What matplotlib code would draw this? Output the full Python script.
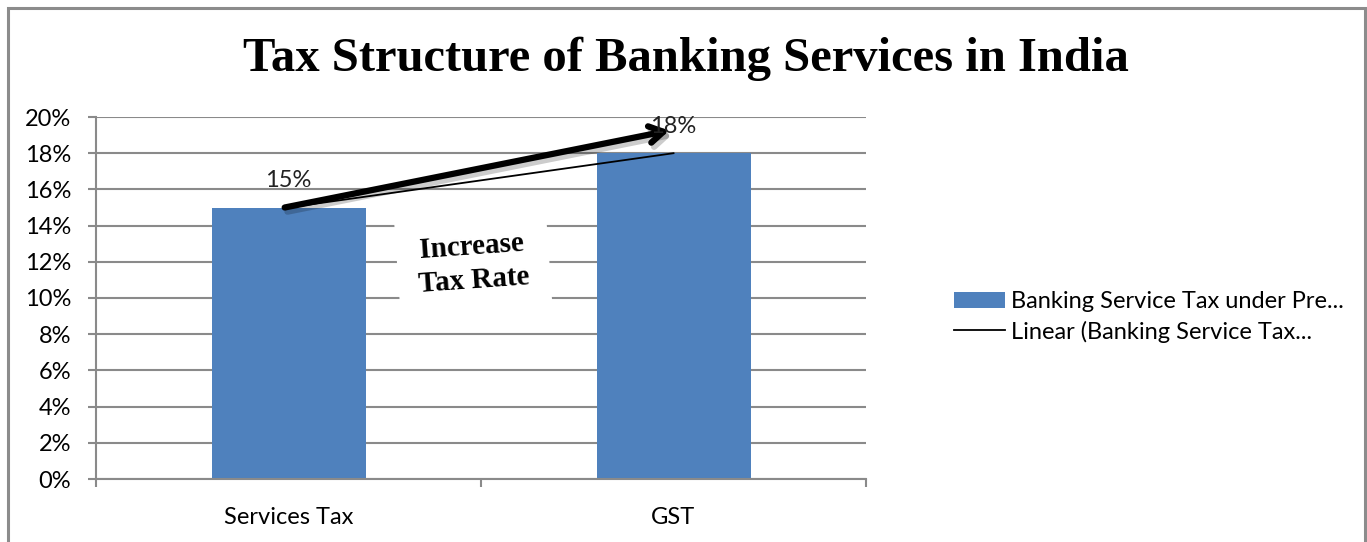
import numpy as np
import matplotlib
matplotlib.use("Agg")
import matplotlib.pyplot as plt
from matplotlib.patches import Rectangle
from matplotlib.ticker import PercentFormatter
import matplotlib.patheffects as pe

# Data
categories = ["Services Tax", "GST"]
tax_rates = [0.15, 0.18]
bar_label = "Banking Service Tax under Pre..."
trend_label = "Linear (Banking Service Tax..."
title = "Tax Structure of Banking Services in India"

W, H = 1367, 542
fig = plt.figure(figsize=(W / 100, H / 100), dpi=100)

# outer chart border
fig.patches.append(Rectangle((8 / W, -0.05), (1365 - 8) / W, 1.05 - 8 / H,
                             transform=fig.transFigure, fill=False,
                             edgecolor="#8c8c8c", linewidth=2.2))

ax = fig.add_axes([96 / W, (H - 479) / H, (866 - 96) / W, (479 - 117) / H])

tick_font = "Lato"
fs = 17
grid_col = "#8a8a8a"

x = np.arange(len(categories))
bars = ax.bar(x, tax_rates, width=0.4, color="#4F81BD", label=bar_label, zorder=2)

# linear trendline
coef = np.polyfit(x, tax_rates, 1)
trend = np.polyval(coef, x)
ax.plot(x, trend, color="black", linewidth=1.3, label=trend_label, zorder=3)

# data labels
for xi, v in zip(x, tax_rates):
    ax.text(xi, v + 0.015, f"{v*100:.0f}%", ha="center", va="center",
            fontsize=fs, family=tick_font, color="#222222", zorder=7)

ax.set_xlim(-0.5, len(categories) - 0.5)
ax.set_ylim(0, 0.20)
ax.set_yticks(np.arange(0, 0.201, 0.02))
ax.yaxis.set_major_formatter(PercentFormatter(1.0, decimals=0))
ax.set_xticks(x)
ax.set_xticklabels(categories)
ax.set_xticks([-0.5, 0.5, 1.5], minor=True)
ax.tick_params(axis="x", which="major", length=0, pad=20)
ax.tick_params(axis="x", which="minor", length=6, color=grid_col, width=1.5)
ax.tick_params(axis="y", length=6, color=grid_col, width=1.5, pad=12)
for lab in ax.get_xticklabels() + ax.get_yticklabels():
    lab.set_fontsize(fs)
    lab.set_family(tick_font)

ax.grid(axis="y", color=grid_col, linewidth=1.5, zorder=0)
ax.set_axisbelow(True)
for s in ["top", "right"]:
    ax.spines[s].set_visible(False)
ax.spines["left"].set_color(grid_col)
ax.spines["left"].set_linewidth(1.5)
ax.spines["bottom"].set_color(grid_col)
ax.spines["bottom"].set_linewidth(1.5)

# arrow annotation
ax.annotate("", xy=(0.996, 0.1928), xytext=(-0.017, 0.1497),
            xycoords="data", textcoords="data",
            arrowprops=dict(arrowstyle="->,head_length=1.0,head_width=0.6",
                            color="black", lw=4.5,
                            path_effects=[pe.SimpleLineShadow(offset=(2, -3), alpha=0.2),
                                          pe.Normal()]),
            zorder=6)

# text box
ax.text(0.48, 0.1188, "Increase\nTax Rate", ha="center", va="center",
        rotation=4, fontsize=21, fontweight="bold", family="Liberation Serif",
        linespacing=1.3,
        bbox=dict(boxstyle="square,pad=0.7", facecolor="white", edgecolor="none"),
        zorder=4)

fig.text(686 / W, 1 - 59 / H, title, ha="center", va="center",
         fontsize=35, fontweight="bold", family="Liberation Serif")

handles, labels = ax.get_legend_handles_labels()
order = [labels.index(bar_label), labels.index(trend_label)]
leg = fig.legend([handles[i] for i in order], [labels[i] for i in order],
                 loc="center left", bbox_to_anchor=(954 / W, 1 - 317 / H),
                 frameon=False, prop=dict(family=tick_font, size=fs),
                 handlelength=2.16, handletextpad=0.25, labelspacing=0.35,
                 borderpad=0, borderaxespad=0)

fig.savefig("out.png", dpi=100)
